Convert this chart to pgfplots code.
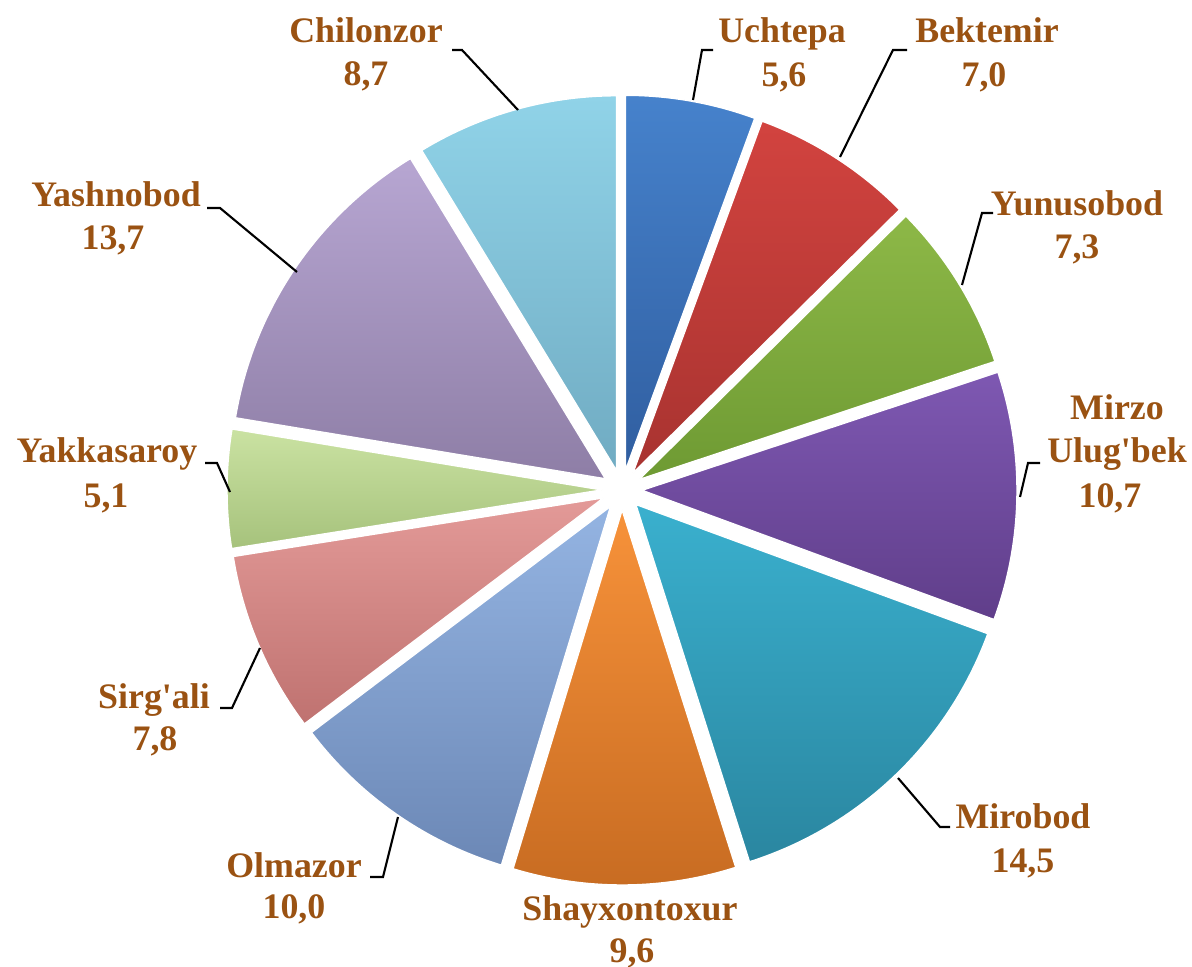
\documentclass[border=0pt]{standalone}
\usepackage{pgfplots}
\pgfplotsset{compat=1.18}
\usepackage{pgfplotstable}
\usepackage{fontspec}
\setmainfont{Liberation Serif}
\newfontfamily\labfont{Liberation Serif}

\definecolor{t0}{HTML}{4682CC}\definecolor{b0}{HTML}{305EA0}
\definecolor{t1}{HTML}{D2433F}\definecolor{b1}{HTML}{A83330}
\definecolor{t2}{HTML}{8DB847}\definecolor{b2}{HTML}{6E9A33}
\definecolor{t3}{HTML}{7E58B2}\definecolor{b3}{HTML}{603E8A}
\definecolor{t4}{HTML}{3AB0CE}\definecolor{b4}{HTML}{2A86A0}
\definecolor{t5}{HTML}{F7923A}\definecolor{b5}{HTML}{C86C22}
\definecolor{t6}{HTML}{94B4E2}\definecolor{b6}{HTML}{6C88B6}
\definecolor{t7}{HTML}{E39A98}\definecolor{b7}{HTML}{BF7270}
\definecolor{t8}{HTML}{CAE2A2}\definecolor{b8}{HTML}{A6C27C}
\definecolor{t9}{HTML}{B7A6D2}\definecolor{b9}{HTML}{8E7EA6}
\definecolor{t10}{HTML}{90D3E8}\definecolor{b10}{HTML}{70ABC2}
\definecolor{labc}{HTML}{9A5212}

\tikzset{lab/.style={font=\labfont\bfseries\fontsize{10.2}{12}\selectfont, text=labc, anchor=base, inner sep=0pt}}
\pgfplotsset{lead/.style={black, line width=0.6pt, mark=none}}

\pgfplotstableread{
name value
Uchtepa 5.6
Bektemir 7.0
Yunusobod 7.3
MirzoUlugbek 10.7
Mirobod 14.5
Shayxontoxur 9.6
Olmazor 10.0
Sirgali 7.8
Yakkasaroy 5.1
Yashnobod 13.7
Chilonzor 8.7
}\piedata

\def\cx{622}\def\cy{490}\def\R{375}\def\D{20}
\gdef\cumsum{0}
\pgfplotsforeachungrouped \i in {0,...,10}{%
  \pgfplotstablegetelem{\i}{value}\of\piedata
  \pgfmathsetmacro\sA{\cumsum*3.6}%
  \pgfmathsetmacro\newcum{\cumsum+\pgfplotsretval}%
  \pgfmathsetmacro\eA{\newcum*3.6}%
  \pgfmathsetmacro\mA{(\sA+\eA)/2}%
  \pgfmathsetmacro\tx{\cx+\D*sin(\mA)}%
  \pgfmathsetmacro\ty{\cy-\D*cos(\mA)}%
  \expandafter\xdef\csname sA\i\endcsname{\sA}%
  \expandafter\xdef\csname eA\i\endcsname{\eA}%
  \expandafter\xdef\csname tx\i\endcsname{\tx}%
  \expandafter\xdef\csname ty\i\endcsname{\ty}%
  \xdef\cumsum{\newcum}%
}

\begin{document}
\begin{tikzpicture}
\begin{axis}[name=ax, width=11.92cm, height=9.67cm, scale only axis,
  xmin=0, xmax=1192, ymin=0, ymax=967, y dir=reverse, hide axis, clip=false]
\pgfplotsinvokeforeach{0,...,10}{
  \addplot[draw=white, line width=0.4pt, mark=none, top color=t#1, bottom color=b#1,
    domain=\csname sA#1\endcsname:\csname eA#1\endcsname, samples=80, variable=\t]
    ({\csname tx#1\endcsname+\R*sin(\t)}, {\csname ty#1\endcsname-\R*cos(\t)})
    -- (\csname tx#1\endcsname,\csname ty#1\endcsname) -- cycle;
}
% leader lines
\addplot[lead] coordinates {(452,50) (462,50) (518,110)};
\addplot[lead] coordinates {(713,50) (702,50) (693,100)};
\addplot[lead] coordinates {(907,50) (893,50) (840,157)};
\addplot[lead] coordinates {(993,213) (982,213) (962,285)};
\addplot[lead] coordinates {(1040,463) (1028,463) (1020,497)};
\addplot[lead] coordinates {(950,827) (940,827) (898,778)};
\addplot[lead] coordinates {(370,877) (383,877) (398,817)};
\addplot[lead] coordinates {(220,708) (232,708) (260,648)};
\addplot[lead] coordinates {(205,463) (217,463) (230,492)};
\addplot[lead] coordinates {(207,208) (220,208) (297,272)};
% labels
\node[lab] at (axis cs:366,43) {Chilonzor};
\node[lab] at (axis cs:366,86) {8,7};
\node[lab] at (axis cs:782,43) {Uchtepa};
\node[lab] at (axis cs:784,87) {5,6};
\node[lab] at (axis cs:987,43) {Bektemir};
\node[lab] at (axis cs:984,87) {7,0};
\node[lab] at (axis cs:1077,216) {Yunusobod};
\node[lab] at (axis cs:1077,259) {7,3};
\node[lab] at (axis cs:1117,420) {Mirzo};
\node[lab] at (axis cs:1117,463) {Ulug'bek};
\node[lab] at (axis cs:1110,507) {10,7};
\node[lab] at (axis cs:1023,828) {Mirobod};
\node[lab] at (axis cs:1023,872) {14,5};
\node[lab] at (axis cs:630,920) {Shayxontoxur};
\node[lab] at (axis cs:632,962) {9,6};
\node[lab] at (axis cs:294,877) {Olmazor};
\node[lab] at (axis cs:294,918) {10,0};
\node[lab] at (axis cs:154,708) {Sirg'ali};
\node[lab] at (axis cs:155,750) {7,8};
\node[lab] at (axis cs:107,463) {Yakkasaroy};
\node[lab] at (axis cs:106,507) {5,1};
\node[lab] at (axis cs:116,207) {Yashnobod};
\node[lab] at (axis cs:113,250) {13,7};
\end{axis}
\pgfresetboundingbox
\useasboundingbox (ax.south west) rectangle (ax.north east);
\end{tikzpicture}
\end{document}
